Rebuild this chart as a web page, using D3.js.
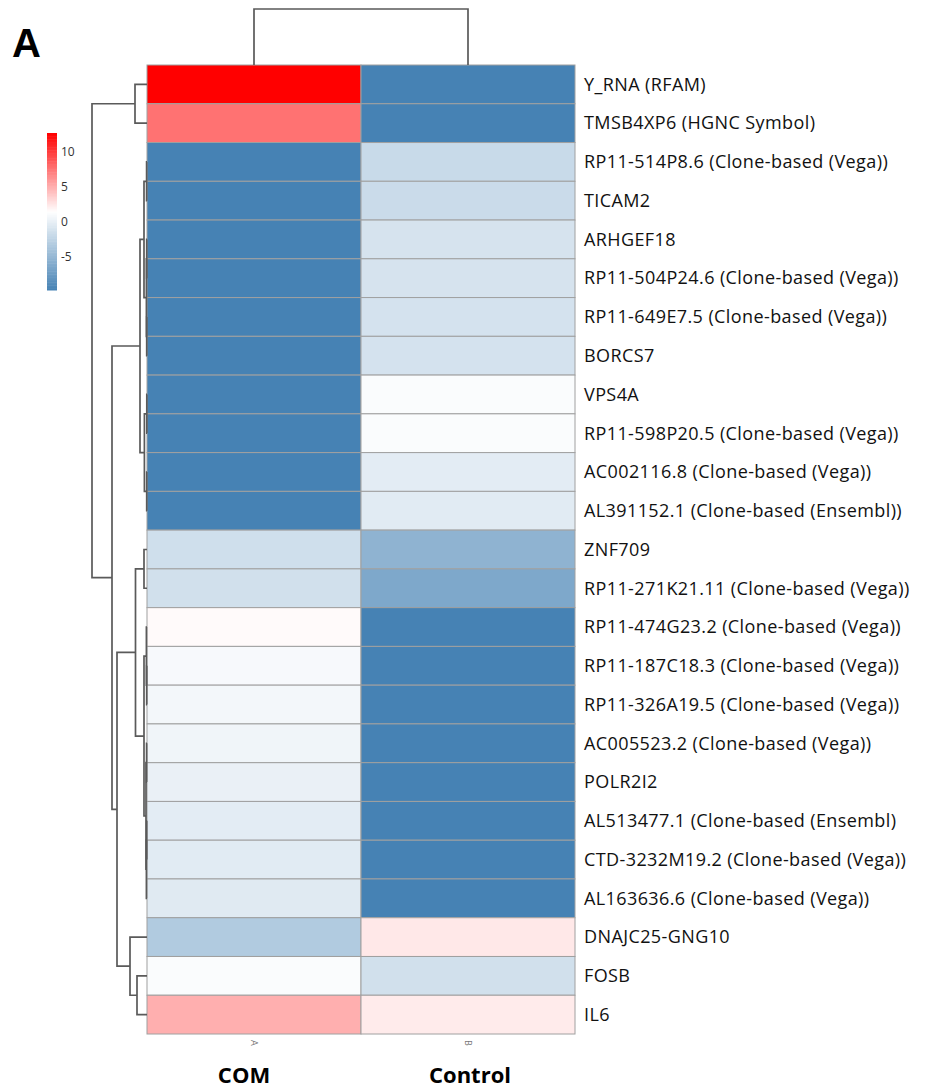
<!DOCTYPE html>
<html>
<head>
<meta charset="utf-8">
<script src="https://cdn.jsdelivr.net/npm/d3@7"></script>
<style>
  body { margin: 0; background: #fff; }
  .row-label { font-family: "Open Sans", sans-serif; font-size: 18px; letter-spacing: 0.4px; fill: #111; }
  .col-label { font-family: "Open Sans", sans-serif; font-weight: bold; font-size: 22px; fill: #000; }
  .legend-label { font-family: "Open Sans", sans-serif; font-size: 12px; fill: #333; }
  .dendro { fill: none; stroke: #5a5a5a; stroke-width: 1.7; }
</style>
</head>
<body>
<div id="svg"></div>
<script>
// data
var genes = [
  'Y_RNA (RFAM)', 'TMSB4XP6 (HGNC Symbol)', 'RP11-514P8.6 (Clone-based (Vega))', 'TICAM2',
  'ARHGEF18', 'RP11-504P24.6 (Clone-based (Vega))', 'RP11-649E7.5 (Clone-based (Vega))', 'BORCS7',
  'VPS4A', 'RP11-598P20.5 (Clone-based (Vega))', 'AC002116.8 (Clone-based (Vega))',
  'AL391152.1 (Clone-based (Ensembl))', 'ZNF709', 'RP11-271K21.11 (Clone-based (Vega))',
  'RP11-474G23.2 (Clone-based (Vega))', 'RP11-187C18.3 (Clone-based (Vega))',
  'RP11-326A19.5 (Clone-based (Vega))', 'AC005523.2 (Clone-based (Vega))', 'POLR2I2',
  'AL513477.1 (Clone-based (Ensembl)', 'CTD-3232M19.2 (Clone-based (Vega))',
  'AL163636.6 (Clone-based (Vega))', 'DNAJC25-GNG10', 'FOSB', 'IL6'
];
var samples = ['A', 'B'];
var groups = ['COM', 'Control'];

// values
var valuesA = [12.7, 7.7, -9.7, -9.7, -9.7, -9.7, -9.7, -9.7, -9.7, -9.7, -9.7, -9.7,
  -1.4, -1.3, 1.7, 1.0, 0.8, 0.6, 0.2, -0.2, -0.3, -0.4, -3.2, 1.2, 5.0];
var valuesB = [-9.7, -9.7, -1.8, -1.7, -1.0, -1.0, -1.1, -1.1, 1.2, 1.2, -0.2, -0.3,
  -5.3, -6.3, -9.7, -9.7, -9.7, -9.7, -9.7, -9.7, -9.7, -9.7, 2.5, -1.3, 2.4];

var legendTicks = [10, 5, 0, -5];

// hclust-style merges: [left, right, height], negative = leaf (1-based), positive = earlier merge
var rowMerge = [
  [-3, -4, 0.4], [-5, -6, 0.3], [-7, -8, 0.3], [2, 3, 0.6], [1, 4, 3],
  [-9, -10, 0.2], [-11, -12, 0.3], [6, 7, 2.6], [5, 8, 7],
  [-16, -17, 0.3], [-15, 10, 0.6], [-18, -19, 0.4], [-20, -21, 0.3], [13, -22, 0.6],
  [12, 14, 1.0], [11, 15, 3], [-13, -14, 3], [17, 16, 11.5],
  [-24, -25, 10], [-23, 19, 17], [18, 20, 30], [9, 21, 35], [-1, -2, 12], [23, 22, 55]
];
var colMerge = [[-1, -2, 1]];

// root SVG
var width = 933, height = 1088;
var svg = d3.select('#svg').append('svg')
  .attr('width', width).attr('height', height);

var hmLeft = 147, hmRight = 575, hmTop = 65, hmBottom = 1034;

var y = d3.scaleBand().domain(d3.range(genes.length)).range([hmTop, hmBottom]);
var x = d3.scaleBand().domain(samples).range([hmLeft, hmRight]);

var vmin = d3.min(valuesA.concat(valuesB)), vmax = d3.max(valuesA.concat(valuesB));
var color = d3.scaleLinear()
  .domain([vmin, (vmin + vmax) / 2, vmax])
  .range(['#4682B4', '#FFFFFF', '#FF0000']);

var cells = [];
genes.forEach(function(g, i) {
  cells.push({row: i, col: 'A', v: valuesA[i]});
  cells.push({row: i, col: 'B', v: valuesB[i]});
});

svg.selectAll('rect.cell')
  .data(cells)
  .enter()
  .append('rect')
  .attr('class', 'cell')
  .attr('x', function(d) { return x(d.col); })
  .attr('y', function(d) { return y(d.row); })
  .attr('width', x.bandwidth())
  .attr('height', y.bandwidth())
  .attr('fill', function(d) { return color(d.v); })
  .attr('stroke', '#a0a0a0')
  .attr('stroke-width', 1);

// row labels
svg.selectAll('text.row-label')
  .data(genes)
  .enter()
  .append('text')
  .attr('class', 'row-label')
  .attr('x', hmRight + 9)
  .attr('y', function(d, i) { return y(i) + y.bandwidth() / 2; })
  .attr('dy', '0.35em')
  .text(function(d) { return d; });

// small sample ids under columns
svg.selectAll('text.sample')
  .data(samples)
  .enter()
  .append('text')
  .attr('transform', function(d) {
    return 'translate(' + (x(d) + x.bandwidth() / 2 - 3) + ',' + (hmBottom + 6) + ') rotate(90)';
  })
  .style('font-family', 'Open Sans, sans-serif')
  .style('font-size', '9px')
  .attr('fill', '#777')
  .text(function(d) { return d; });

// group names
svg.selectAll('text.col-label')
  .data(groups)
  .enter()
  .append('text')
  .attr('class', 'col-label')
  .attr('x', function(d, i) { return x(samples[i]) + x.bandwidth() / 2 + (i === 0 ? -10 : 2); })
  .attr('y', 1083)
  .attr('text-anchor', 'middle')
  .text(function(d) { return d; });

// panel letter
svg.append('text')
  .attr('x', 12).attr('y', 57)
  .style('font-family', 'Liberation Sans, Arial, sans-serif')
  .style('font-weight', 'bold')
  .style('font-size', '40px')
  .text('A');

// dendrograms
function layout(merge, leafPos) {
  var nodes = [];
  function get(k) {
    if (k < 0) return {pos: leafPos(-k - 1), h: 0};
    return nodes[k - 1];
  }
  merge.forEach(function(m) {
    var a = get(m[0]), b = get(m[1]);
    nodes.push({a: a, b: b, h: m[2], pos: (a.pos + b.pos) / 2});
  });
  return nodes;
}

var rowNodes = layout(rowMerge, function(i) { return y(i) + y.bandwidth() / 2; });
var hx = d3.scaleLinear()
  .domain([0, d3.max(rowMerge, function(m) { return m[2]; })])
  .range([hmLeft, 92]);

svg.selectAll('path.row-dendro')
  .data(rowNodes)
  .enter()
  .append('path')
  .attr('class', 'dendro')
  .attr('d', function(n) {
    return 'M' + hx(n.a.h) + ',' + n.a.pos + 'H' + hx(n.h) + 'V' + n.b.pos + 'H' + hx(n.b.h);
  });

var colNodes = layout(colMerge, function(i) { return x(samples[i]) + x.bandwidth() / 2; });
var hy = d3.scaleLinear()
  .domain([0, d3.max(colMerge, function(m) { return m[2]; })])
  .range([hmTop, 9]);

svg.selectAll('path.col-dendro')
  .data(colNodes)
  .enter()
  .append('path')
  .attr('class', 'dendro')
  .attr('d', function(n) {
    return 'M' + n.a.pos + ',' + hy(n.a.h) + 'V' + hy(n.h) + 'H' + n.b.pos + 'V' + hy(n.b.h);
  });

// colour legend
var ly = d3.scaleLinear().domain([vmin, vmax]).range([290, 133]);
var steps = d3.range(100).map(function(i) { return vmin + (vmax - vmin) * i / 100; });
var stepH = (ly(vmin) - ly(vmax)) / 100;

svg.selectAll('rect.legend')
  .data(steps)
  .enter()
  .append('rect')
  .attr('x', 47)
  .attr('width', 10)
  .attr('y', function(d) { return ly(d) - stepH; })
  .attr('height', stepH + 0.5)
  .attr('fill', function(d) { return color(d + (vmax - vmin) / 200); });

svg.selectAll('text.legend-label')
  .data(legendTicks)
  .enter()
  .append('text')
  .attr('class', 'legend-label')
  .attr('x', 61)
  .attr('y', function(d) { return ly(d); })
  .attr('dy', '0.35em')
  .text(function(d) { return d; });
</script>
</body>
</html>
